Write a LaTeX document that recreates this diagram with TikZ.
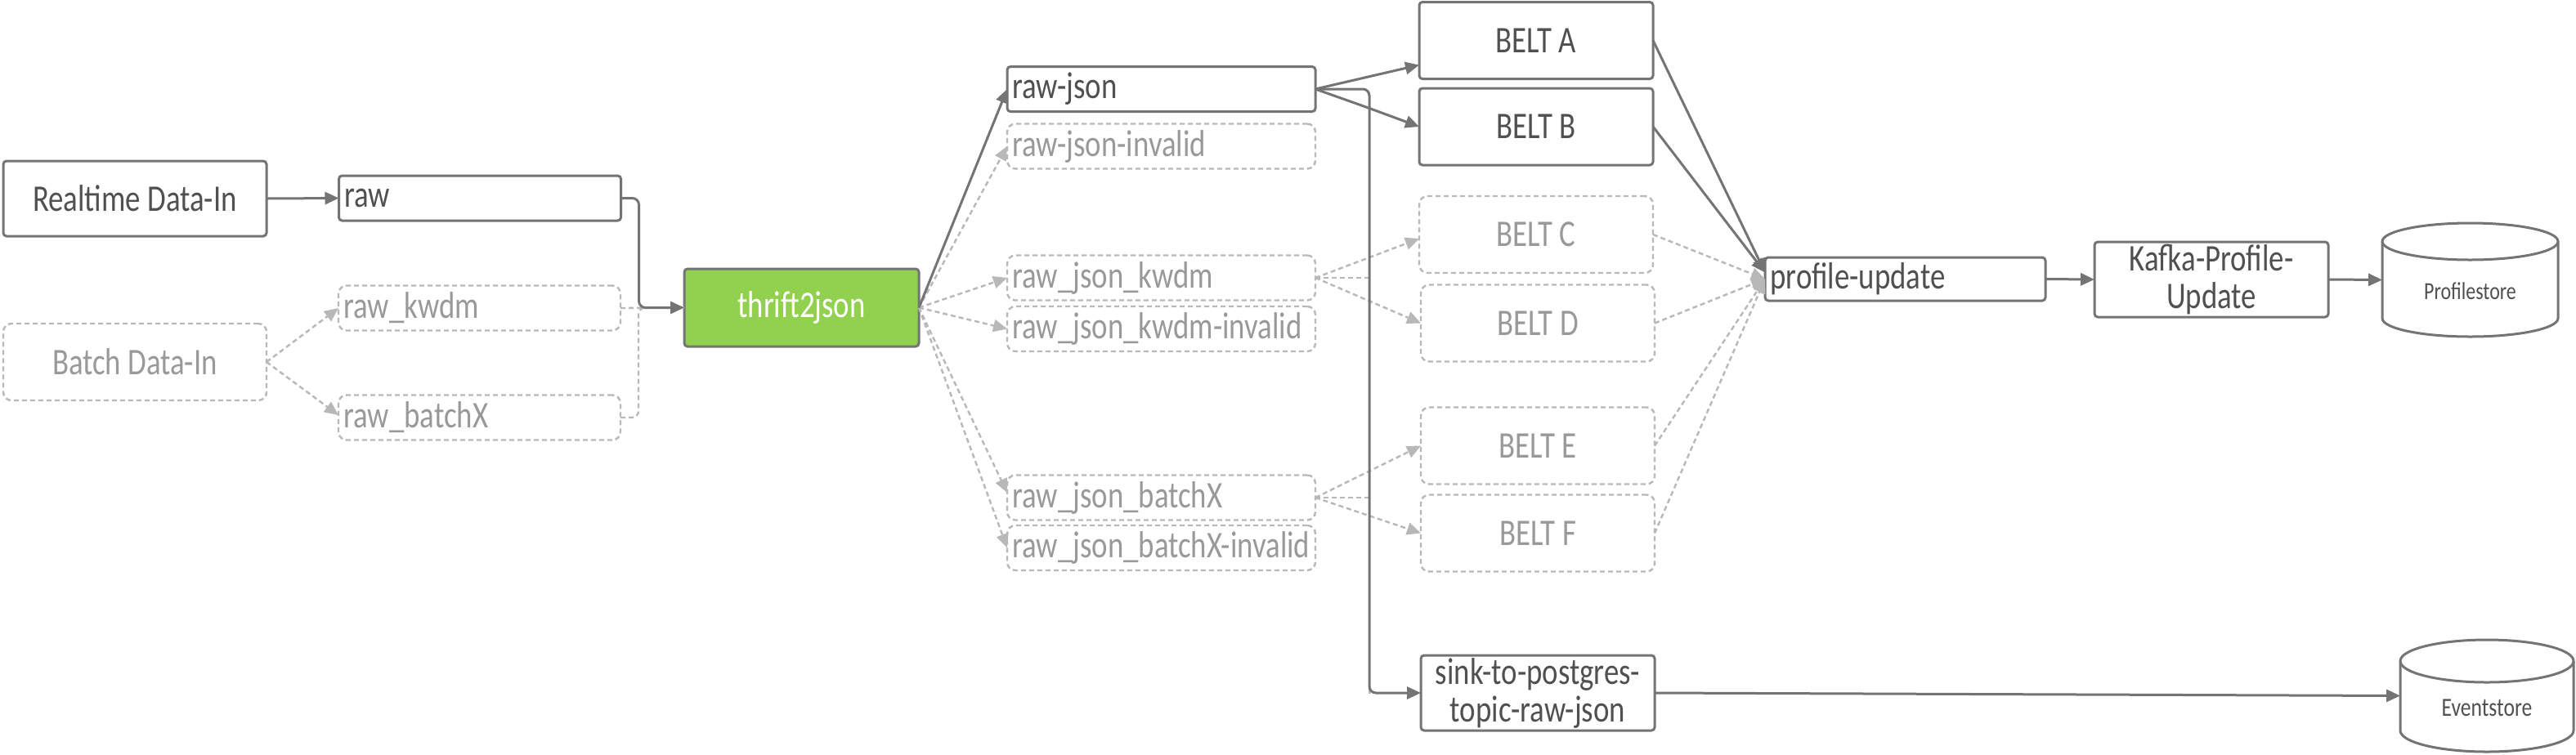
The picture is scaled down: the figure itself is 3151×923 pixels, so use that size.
\documentclass[tikz,border=0pt]{standalone}
\usepackage{fontspec}
\setmainfont{Carlito}[FakeStretch=0.8]
\usetikzlibrary{arrows.meta}
\definecolor{lineC}{HTML}{747474}
\definecolor{dashC}{HTML}{B8B8B8}
\definecolor{txtC}{HTML}{505050}
\definecolor{dtxtC}{HTML}{999999}
\definecolor{greenC}{HTML}{92D050}
\begin{document}
\begin{tikzpicture}[x=0.5pt,y=-0.5pt,
  base/.style={font=\fontsize{23pt}{23pt}\selectfont, inner sep=0pt, outer sep=0pt},
  solidbox/.style={base, draw=lineC, line width=1.5pt, rounded corners=2pt, fill=white, text=txtC, align=center},
  dashbox/.style={base, draw=dashC, line width=1.2pt, dash pattern=on 3pt off 2pt, rounded corners=5pt, text=dtxtC, align=center},
  beltbox/.style={minimum width=143pt, minimum height=47pt},
  topicL/.style={text width=166pt, inner xsep=3.25pt, align=left, minimum height=27.5pt},
  topicR/.style={text width=182pt, inner xsep=3.25pt, align=left, minimum height=27.5pt},
  arr/.style={draw=lineC, line width=1.5pt, -{Triangle[length=8.5pt,width=7.5pt]}},
  darr/.style={draw=dashC, line width=1.2pt, dash pattern=on 3pt off 2pt, -{Triangle[length=8.5pt,width=7.5pt]}},
  dline/.style={draw=dashC, line width=1.2pt, dash pattern=on 3pt off 2pt},
  cyl/.style={draw=lineC, line width=1.5pt}
]
\fill[white] (0,0) rectangle (3151,923);
\useasboundingbox (0,0) rectangle (3151,923);

% sources
\node[solidbox, minimum width=161pt, minimum height=46pt] (rt) at (165,243) {Realtime Data-In};
\node[dashbox, minimum width=161pt, minimum height=47pt] (bt) at (165,443) {Batch Data-In};

% raw topics
\node[solidbox, topicL] (raw) at (587,242.5) {raw};
\node[dashbox, topicL] (rawk) at (586.5,377) {raw\_kwdm};
\node[dashbox, topicL] (rawb) at (586.5,511) {raw\_batchX};

% thrift2json
\node[solidbox, fill=greenC, text=white, minimum width=143.5pt, minimum height=47.5pt] (th) at (980.5,376.5) {thrift2json};

% json topics
\node[solidbox, topicR] (rj) at (1420.5,109) {raw-json};
\node[dashbox, topicR] (rji) at (1420.5,179) {raw-json-invalid};
\node[dashbox, topicR] (jk) at (1420.5,340) {raw\_json\_kwdm};
\node[dashbox, topicR] (jki) at (1420.5,402.5) {raw\_json\_kwdm-invalid};
\node[dashbox, topicR] (jb) at (1420.5,609) {raw\_json\_batchX};
\node[dashbox, topicR] (jbi) at (1420.5,670.5) {raw\_json\_batchX-invalid};

% belts
\node[solidbox, beltbox] (ba) at (1879,49.5) {BELT A};
\node[solidbox, beltbox] (bb) at (1879,155) {BELT B};
\node[dashbox, beltbox] (bc) at (1879,287) {BELT C};
\node[dashbox, beltbox] (bd) at (1881,395.5) {BELT D};
\node[dashbox, beltbox] (be) at (1881,545.5) {BELT E};
\node[dashbox, beltbox] (bf) at (1881,652.5) {BELT F};
\node[solidbox, minimum width=143pt, minimum height=46pt] (sk) at (1881,848) {sink-to-postgres-\\topic-raw-json};

% profile chain
\node[solidbox, text width=165pt, inner xsep=3.25pt, align=left, minimum height=26.5pt] (pu) at (2330.5,341.5) {profile-update};
\node[solidbox, minimum width=143pt, minimum height=46pt] (kf) at (2705,342) {Kafka-Profile-\\Update};

% cylinders
\node[base, minimum width=107.5pt, minimum height=69.5pt] (ps) at (3021.5,342.5) {};
\draw[cyl] ([yshift=-11.25pt]ps.north west) -- ([yshift=11.25pt]ps.south west)
  arc[start angle=180, end angle=360, x radius=53.75pt, y radius=11.25pt]
  -- ([yshift=-11.25pt]ps.north east);
\draw[cyl] ([yshift=-11.25pt]ps.north) ellipse[x radius=53.75pt, y radius=11.25pt];
\node[base, font=\fontsize{15pt}{16pt}\selectfont, text=txtC] (pst) at ([yshift=-7pt]ps.center) {Profilestore};

\node[base, minimum width=106pt, minimum height=68.5pt] (es) at (3042,851.5) {};
\draw[cyl] ([yshift=-13pt]es.north west) -- ([yshift=13pt]es.south west)
  arc[start angle=180, end angle=360, x radius=53pt, y radius=13pt]
  -- ([yshift=-13pt]es.north east);
\draw[cyl] ([yshift=-13pt]es.north) ellipse[x radius=53pt, y radius=13pt];
\node[base, font=\fontsize{16pt}{17pt}\selectfont, text=txtC] (est) at ([yshift=-7.5pt]es.center) {Eventstore};

% ---- connectors ----
\draw[arr] (rt.east) -- (raw.west);
\draw[darr] (bt.east) -- (rawk.west);
\draw[darr] (bt.east) -- ([yshift=1.5pt]rawb.west);
\draw[dline] (rawk.east) -- (th.west);
\draw[dline, rounded corners=4pt] (rawb.east) -- ++(22,0) |- (th.west);
\draw[arr, rounded corners=4pt] (raw.east) -- ++(22,0) |- (th.west);

\draw[darr] (th.east) -- (rji.west);
\draw[darr] (th.east) -- (jk.west);
\draw[darr] (th.east) -- (jki.west);
\draw[darr] (th.east) -- ([yshift=3pt]jb.west);
\draw[darr] (th.east) -- (jbi.west);
\draw[arr] (th.east) -- (rj.west);

\draw[darr] (jk.east) -- ([yshift=-2.5pt]bc.west);
\draw[darr] (jk.east) -- (bd.west);
\draw[dline] (jk.east) -- ++(66,0) |- (sk.west);
\draw[darr] (jb.east) -- (be.west);
\draw[darr] (jb.east) -- (bf.west);
\draw[dline] (jb.east) -- ++(66,0) |- (sk.west);

\draw[arr] (rj.east) -- ([yshift=-15pt]ba.west);
\draw[arr, rounded corners=6pt] (rj.east) -- ++(62,22) -- (bb.west);
\draw[arr, rounded corners=4pt] (rj.east) -- ++(66,0) |- (sk.west);

\draw[darr] (bc.east) -- (pu.west);
\draw[darr] (bd.east) -- (pu.west);
\draw[darr] (be.east) -- (pu.west);
\draw[darr] (bf.east) -- (pu.west);
\draw[arr] (ba.east) -- ([yshift=4pt]pu.west);
\draw[arr] (bb.east) -- ([yshift=4pt]pu.west);

\draw[arr] (pu.east) -- (kf.west);
\draw[arr] (kf.east) -- (ps.west);
\draw[arr] (sk.east) -- (es.west);
\end{tikzpicture}
\end{document}
